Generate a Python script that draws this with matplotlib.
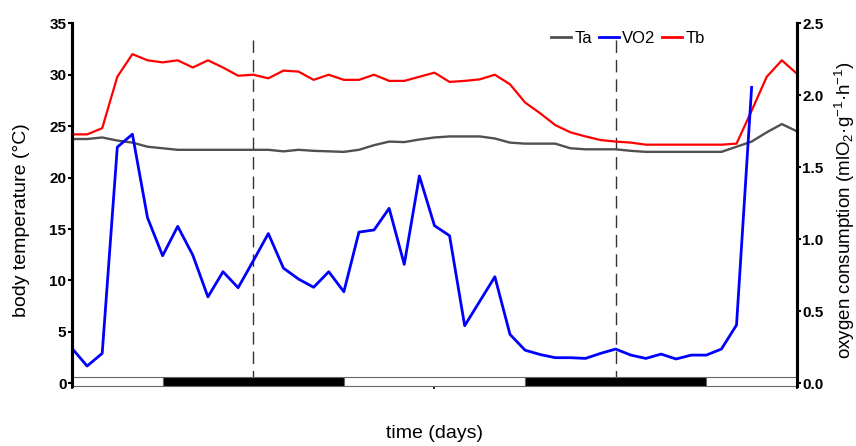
import matplotlib
matplotlib.use("Agg")
import matplotlib.pyplot as plt
from matplotlib.patches import Rectangle
from matplotlib.lines import Line2D

plt.rcParams['font.family'] = ['Liberation Sans', 'DejaVu Sans']
plt.rcParams['mathtext.fontset'] = 'custom'
plt.rcParams['mathtext.rm'] = 'Liberation Sans'
plt.rcParams['mathtext.it'] = 'Liberation Sans:italic'
plt.rcParams['mathtext.bf'] = 'Liberation Sans:bold'

hours_tb = list(range(49))
Tb = [24.2, 24.2, 24.8, 29.8, 32.0, 31.4, 31.2, 31.4, 30.7, 31.4, 30.7, 29.9, 30.0,
      29.65, 30.4, 30.3, 29.5, 30.0, 29.5, 29.5, 30.0, 29.4, 29.4, 29.8, 30.2, 29.3,
      29.4, 29.55, 30.0, 29.07, 27.3, 26.25, 25.1, 24.4, 24.0, 23.65, 23.5, 23.4,
      23.2, 23.2, 23.2, 23.2, 23.2, 23.2, 23.3, 26.5, 29.8, 31.4, 30.1]
Ta = [23.75, 23.75, 23.9, 23.6, 23.4, 23.0, 22.85, 22.7, 22.7, 22.7, 22.7, 22.7, 22.7,
      22.7, 22.55, 22.7, 22.6, 22.55, 22.5, 22.7, 23.15, 23.5, 23.45, 23.7, 23.9, 24.0,
      24.0, 24.0, 23.8, 23.4, 23.3, 23.3, 23.3, 22.85, 22.75, 22.75, 22.75, 22.6,
      22.5, 22.5, 22.5, 22.5, 22.5, 22.5, 23.0, 23.5, 24.4, 25.2, 24.5]
hours_vo2 = list(range(46))
VO2 = [0.243, 0.12, 0.208, 1.64, 1.73, 1.15, 0.886, 1.09, 0.89, 0.60, 0.775, 0.664, 0.85,
       1.04, 0.80, 0.724, 0.667, 0.775, 0.636, 1.05, 1.065, 1.215, 0.826, 1.44, 1.095, 1.025,
       0.40, 0.57, 0.74, 0.34, 0.23, 0.20, 0.178, 0.178, 0.173, 0.208, 0.238, 0.196,
       0.173, 0.203, 0.169, 0.196, 0.196, 0.238, 0.405, 2.055]
# light/dark periods (hour start, hour end, dark?)
period_starts = [0, 6, 18, 30, 42]
period_ends = [6, 18, 30, 42, 48]
period_dark = [False, True, False, True, False]
midnights = [12, 36]

fig = plt.figure(figsize=(8.56, 4.46), dpi=100)
ax = fig.add_axes([0.0841, 0.1336, 0.8469, 0.8142])
ax2 = ax.twinx()

ax.set_xlim(0, 48)
ax.set_ylim(-0.3, 35)
ax2.set_ylim(-0.3 / 35 * 2.5, 2.5)

for h in midnights:
    ax.plot([h, h], [0, 33.6], color='#333333', lw=1.0, linestyle=(0, (9, 5)), zorder=1)

for s, e, d in zip(period_starts, period_ends, period_dark):
    ax.add_patch(Rectangle((s, -0.3), e - s, 0.9, facecolor='black' if d else 'white',
                           edgecolor='#666666', lw=0.8, zorder=3, clip_on=False))

ax.plot(hours_tb, Ta, color='#505050', lw=1.7, zorder=2)
ax.plot(hours_tb, Tb, color='#ff0000', lw=1.6, zorder=2)
ax2.plot(hours_vo2, VO2, color='#0000ff', lw=2.0, zorder=2)

for a in (ax, ax2):
    a.spines['top'].set_visible(False)
    a.spines['bottom'].set_visible(False)
    a.spines['left'].set_linewidth(2.2)
    a.spines['right'].set_linewidth(2.2)

ax.set_yticks(range(0, 36, 5))
ax.set_yticklabels([str(v) for v in range(0, 36, 5)], fontweight='bold', fontsize=11)
ax2.set_yticks([0, 0.5, 1.0, 1.5, 2.0, 2.5])
ax2.set_yticklabels(['0.0', '0.5', '1.0', '1.5', '2.0', '2.5'], fontweight='bold', fontsize=11)
ax.tick_params(axis='y', length=3, width=1.5, pad=1)
ax2.tick_params(axis='y', length=3, width=1.5, pad=1)
ax.set_xticks([0, 24, 48])
ax.set_xticklabels([])
ax.tick_params(axis='x', length=2.5, width=1.2)

ax.set_ylabel('body temperature (°C)', fontsize=14)
ax.yaxis.set_label_coords(-0.058, 0.458)
ax2.set_ylabel('oxygen consumption (mlO$_2$·g$^{-1}$·h$^{-1}$)', fontsize=13.5)
ax2.yaxis.set_label_coords(1.049, 0.486)
ax.set_xlabel('time (days)', fontsize=14)
ax.xaxis.set_label_coords(0.5, -0.106)

handles = [Line2D([], [], color='#505050', lw=2), Line2D([], [], color='#0000ff', lw=2),
           Line2D([], [], color='#ff0000', lw=2)]
ax.legend(handles, ['Ta', 'VO2', 'Tb'], ncol=3, loc='upper left', bbox_to_anchor=(0.64, 1.02),
          frameon=False, fontsize=12, handlelength=1.2, handletextpad=0.2, columnspacing=0.4)

fig.savefig('out.png', dpi=100)
